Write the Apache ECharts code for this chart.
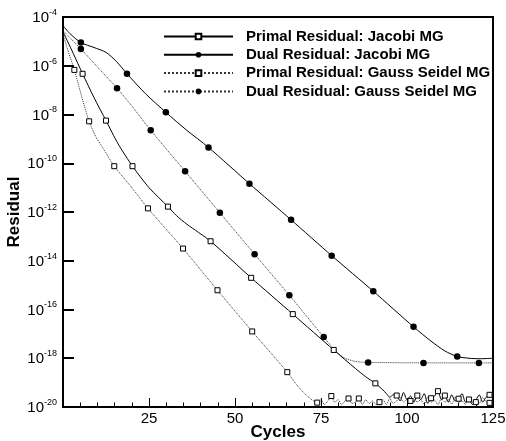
<!DOCTYPE html>
<html><head><meta charset="utf-8">
<script src="https://cdn.jsdelivr.net/npm/echarts@6/dist/echarts.min.js"></script>
<style>html,body{margin:0;padding:0;background:#fff}#c{width:506px;height:441px}</style>
</head><body><div id="c"></div>
<script>
// Series names
const seriesNames = [
  'Primal Residual: Jacobi MG',
  'Dual Residual: Jacobi MG',
  'Primal Residual: Gauss Seidel MG',
  'Dual Residual: Gauss Seidel MG'
];
// Values read as log10(residual)
const primalJacobiCycles = [0, 3, 5.7, 9, 12.5, 16, 20.2, 25, 30.5, 33, 36, 42.9, 54.7, 66.8, 78.7, 85, 88, 90.8, 93,
  94, 95, 96, 97, 98, 99, 100, 101, 102, 103, 104, 105, 106, 107, 108, 109, 110, 111, 112, 113, 114, 115, 116, 117, 118, 119, 120, 121, 122, 123, 124, 125];
const primalJacobiLog = [-4.6, -5.5, -6.33, -7.3, -8.25, -9.2, -10.12, -11.0, -11.78, -12.15, -12.5, -13.2, -14.7, -16.19, -17.66, -18.42, -18.76, -19.03, -19.3,
  -19.45, -19.6, -19.5, -19.53, -19.75, -19.4, -19.7, -19.55, -19.8, -19.53, -19.7, -19.45, -19.85, -19.64, -19.55, -19.35, -19.7, -19.53, -19.8, -19.5, -19.75, -19.66, -19.45, -19.8, -19.69, -19.9, -19.72, -19.5, -19.8, -19.6, -19.5, -19.62];
const primalJacobiMarks = [5.7, 12.5, 20.2, 30.5, 42.9, 54.7, 66.8, 78.7, 90.8, 97, 103, 107, 109, 111, 115, 118, 124];

const dualJacobiCycles = [0, 2, 5.2, 9, 12.5, 15.5, 18.6, 24, 29.9, 36, 42.3, 54.2, 66.3, 78.1, 90.2, 101.9, 107, 111, 114.6, 118, 121, 125];
const dualJacobiLog = [-4.35, -4.68, -5.05, -5.25, -5.45, -5.82, -6.33, -7.15, -7.91, -8.65, -9.35, -10.84, -12.32, -13.79, -15.25, -16.71, -17.3, -17.7, -17.93, -18.0, -18.02, -18.0];
const dualJacobiMarks = [5.2, 18.6, 29.9, 42.3, 54.2, 66.3, 78.1, 90.2, 101.9, 114.6];

const primalGSCycles = [0, 1.5, 3.3, 5.5, 7.6, 9.5, 11.5, 14.9, 20, 24.7, 34.9, 44.9, 55, 65.2, 68, 71, 73.9,
  75, 76, 77, 78, 79, 80, 81, 82, 83, 84, 85, 86, 87, 88, 89, 90, 91, 92, 93, 94, 95, 96, 97, 98, 99, 100, 101, 102, 103, 104, 105, 106, 107, 108, 109, 110, 111, 112, 113, 114, 115, 116, 117, 118, 119, 120, 121, 122, 123, 124, 125];
const primalGSLog = [-4.7, -5.4, -6.17, -7.3, -8.28, -8.9, -9.35, -10.12, -11.0, -11.85, -13.5, -15.21, -16.9, -18.57, -19.1, -19.55, -19.82,
  -19.7, -19.9, -19.75, -19.55, -19.8, -19.7, -19.9, -19.75, -19.65, -19.85, -19.8, -19.65, -19.9, -19.7, -19.85, -19.75, -19.9, -19.8, -19.7, -19.9, -19.65, -19.85, -19.75, -19.6, -19.8, -19.7, -19.75, -19.65, -19.8, -19.7, -19.9, -19.6, -19.8, -19.72, -19.9, -19.65, -19.8, -19.7, -19.88, -19.6, -19.8, -19.75, -19.9, -19.65, -19.8, -19.8, -19.85, -19.6, -19.8, -19.83, -19.9];
const primalGSMarks = [3.3, 7.6, 14.9, 24.7, 34.9, 44.9, 55, 65.2, 73.9, 78, 83, 86, 92, 101, 120, 124];

const dualGSCycles = [0, 2, 5.2, 10, 15.7, 20, 25.5, 35.5, 45.6, 55.7, 65.8, 75.8, 78, 80, 82, 84, 86, 88.7, 95, 104.8, 112, 120.9, 125];
const dualGSLog = [-4.55, -4.85, -5.31, -6.05, -6.92, -7.65, -8.65, -10.33, -12.03, -13.73, -15.42, -17.13, -17.5, -17.8, -18.0, -18.1, -18.15, -18.17, -18.18, -18.19, -18.19, -18.19, -18.19];
const dualGSMarks = [5.2, 15.7, 25.5, 35.5, 45.6, 55.7, 65.8, 75.8, 88.7, 104.8, 120.9];

const xTicks = [25, 50, 75, 100, 125];

function build(cycles, logs, marks, sym) {
  return cycles.map((c, i) => ({
    value: [c, Math.pow(10, logs[i])],
    symbol: marks.includes(c) ? sym : 'none'
  }));
}

const squareStyle = {color: '#fff', borderColor: '#000', borderWidth: 1};
const circleStyle = {color: '#000'};
const FONT = 'Liberation Sans, Arial, Helvetica, sans-serif';

const chart = echarts.init(document.getElementById('c'), null, {renderer: 'canvas'});
chart.setOption({
  animation: false,
  backgroundColor: '#fff',
  textStyle: {fontFamily: FONT},
  grid: {left: 63, right: 13, top: 17, bottom: 34, containLabel: false, outerBoundsMode: 'none',
    show: true, borderColor: '#000', borderWidth: 2, backgroundColor: 'transparent'},
  legend: {
    orient: 'vertical', left: 163, top: 29, padding: 0, itemWidth: 69, itemHeight: 7, itemGap: 3.3,
    textStyle: {fontFamily: FONT, fontSize: 15, fontWeight: 'bold', color: '#000', padding: [0, 0, 0, 8]},
    data: seriesNames
  },
  xAxis: {
    type: 'value', min: 0, max: 125, interval: 25,
    name: 'Cycles', nameLocation: 'middle', nameGap: 17, nameMoveOverlap: false,
    nameTextStyle: {fontFamily: FONT, fontSize: 17, fontWeight: 'bold', color: '#000'},
    axisLine: {lineStyle: {color: '#000', width: 2}},
    axisTick: {inside: true, length: 9, lineStyle: {color: '#000'}},
    minorTick: {show: true, splitNumber: 5, length: 4.5, lineStyle: {color: '#000'}},
    splitLine: {show: false},
    axisLabel: {fontFamily: FONT, fontSize: 15, color: '#000', margin: 4,
      formatter: v => xTicks.includes(v) ? String(v) : ''}
  },
  yAxis: {
    type: 'log', logBase: 10, min: 1e-20, max: 1e-4, interval: 2,
    name: 'Residual', nameLocation: 'middle', nameGap: 40, nameRotate: 90, nameMoveOverlap: false,
    nameTextStyle: {fontFamily: FONT, fontSize: 17, fontWeight: 'bold', color: '#000'},
    axisLine: {lineStyle: {color: '#000', width: 2}},
    axisTick: {inside: true, length: 11, lineStyle: {color: '#000', width: 2}},
    splitLine: {show: false},
    axisLabel: {
      margin: 6, color: '#000',
      formatter: v => '{b|10}{s|' + Math.round(Math.log10(v)) + '}',
      rich: {b: {fontFamily: FONT, fontSize: 15, color: '#000', padding: [2, 0, 0, 0]},
             s: {fontFamily: FONT, fontSize: 9, color: '#000', padding: [0, 0, 9, 0]}}
    }
  },
  series: [
    {name: seriesNames[0], type: 'line', data: build(primalJacobiCycles, primalJacobiLog, primalJacobiMarks, 'rect'),
      symbol: 'rect', symbolSize: 5, showAllSymbol: true, smooth: 0.25,
      lineStyle: {color: '#000', width: 1}, itemStyle: squareStyle, z: 4},
    {name: seriesNames[1], type: 'line', data: build(dualJacobiCycles, dualJacobiLog, dualJacobiMarks, 'circle'),
      symbol: 'circle', symbolSize: 6.5, showAllSymbol: true, smooth: 0.25,
      lineStyle: {color: '#000', width: 1}, itemStyle: circleStyle, z: 3},
    {name: seriesNames[2], type: 'line', data: build(primalGSCycles, primalGSLog, primalGSMarks, 'rect'),
      symbol: 'rect', symbolSize: 5, showAllSymbol: true, smooth: 0.25,
      lineStyle: {color: '#333', width: 1, type: 'dotted'}, itemStyle: squareStyle, z: 4},
    {name: seriesNames[3], type: 'line', data: build(dualGSCycles, dualGSLog, dualGSMarks, 'circle'),
      symbol: 'circle', symbolSize: 6.5, showAllSymbol: true, smooth: 0.25,
      lineStyle: {color: '#333', width: 1, type: 'dotted'}, itemStyle: circleStyle, z: 3}
  ]
});
</script>
</body></html>
